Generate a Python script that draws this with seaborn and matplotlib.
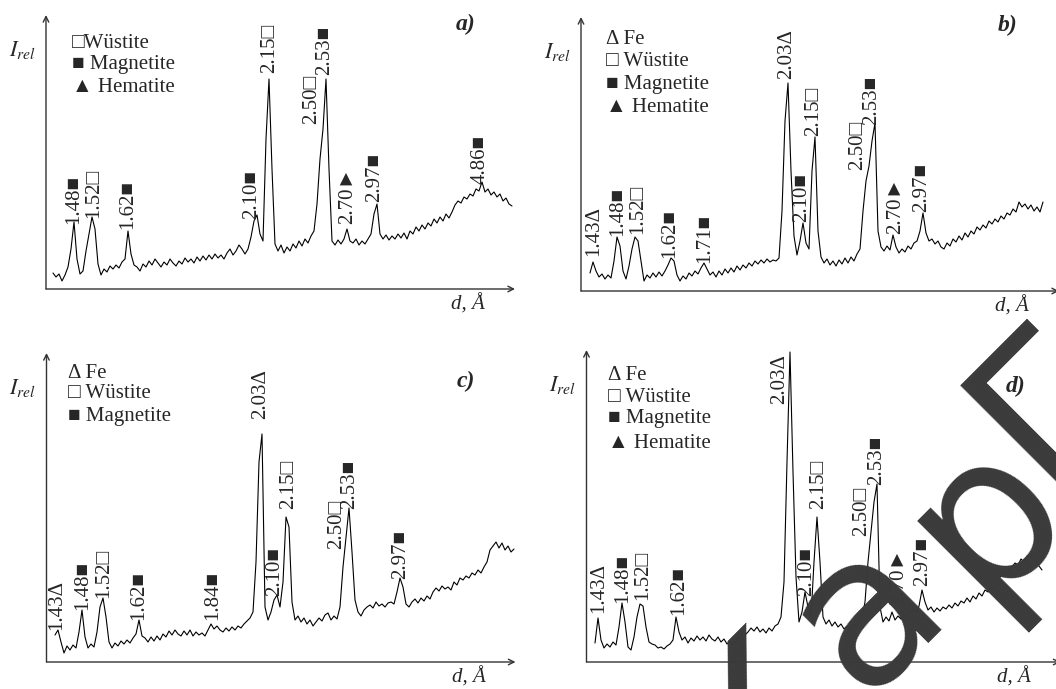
import numpy as np
import matplotlib
matplotlib.use("Agg")
import matplotlib.pyplot as plt
import seaborn as sns

a_x0 = 7
a_y = [16, 12, 15, 8, 14, 22, 40, 67, 30, 15, 18, 38, 55, 72, 60, 25, 14, 20, 17, 23,
       20, 24, 21, 27, 30, 58, 35, 24, 22, 18, 25, 22, 28, 24, 30, 26, 22, 27, 24, 30,
       26, 23, 28, 25, 31, 27, 30, 26, 32, 28, 33, 29, 34, 30, 35, 31, 34, 30, 36, 40,
       34, 38, 44, 40, 35, 40, 52, 68, 74, 55, 48, 150, 210, 120, 45, 38, 44, 36, 42, 38,
       45, 41, 48, 43, 50, 46, 53, 58, 85, 130, 160, 210, 120, 48, 44, 49, 45, 50, 60, 48,
       46, 50, 44, 48, 45, 50, 55, 75, 85, 55, 50, 54, 49, 53, 50, 55, 51, 56, 50, 58,
       55, 62, 58, 64, 60, 66, 63, 70, 66, 72, 68, 75, 71, 77, 84, 88, 86, 92, 90, 95,
       93, 100, 98, 107, 97, 100, 94, 97, 92, 95, 88, 91, 85, 83]

b_x0 = 9
b_y = [18, 29, 20, 14, 17, 12, 16, 13, 30, 54, 45, 20, 12, 25, 42, 54, 50, 30, 10, 16,
       13, 18, 14, 19, 15, 20, 26, 33, 30, 16, 10, 15, 12, 18, 15, 20, 17, 23, 28, 22,
       16, 19, 14, 20, 16, 22, 18, 23, 19, 25, 21, 26, 23, 28, 25, 30, 27, 31, 28, 32,
       29, 31, 30, 33, 80, 170, 208, 120, 55, 36, 50, 68, 48, 42, 120, 154, 60, 34, 28, 32,
       26, 30, 25, 31, 27, 33, 28, 34, 30, 37, 42, 80, 110, 125, 150, 168, 60, 44, 40, 45,
       41, 56, 44, 38, 42, 39, 45, 42, 48, 50, 60, 78, 58, 50, 52, 47, 50, 44, 42, 48,
       45, 52, 49, 55, 51, 58, 54, 60, 57, 64, 61, 66, 63, 70, 67, 72, 69, 75, 72, 78,
       76, 82, 79, 89, 84, 87, 82, 86, 80, 84, 79, 89]

c_x0 = 8.5
c_y = [27, 32, 20, 9, 16, 12, 17, 14, 30, 52, 25, 14, 18, 15, 30, 55, 64, 45, 20, 14,
       19, 16, 21, 18, 22, 19, 24, 28, 42, 26, 24, 20, 25, 21, 26, 22, 28, 25, 31, 27,
       32, 28, 26, 31, 27, 32, 26, 30, 27, 29, 26, 32, 38, 33, 36, 32, 30, 34, 31, 35,
       32, 36, 34, 38, 41, 44, 50, 100, 200, 228, 55, 42, 50, 62, 67, 55, 80, 145, 135, 60,
       42, 46, 40, 44, 38, 42, 36, 40, 44, 41, 47, 49, 42, 46, 43, 55, 95, 125, 154, 110,
       62, 50, 46, 52, 55, 57, 54, 60, 56, 58, 55, 59, 60, 58, 70, 84, 75, 58, 55, 60,
       63, 59, 64, 61, 66, 63, 70, 74, 71, 76, 73, 75, 72, 80, 77, 84, 82, 86, 84, 89,
       87, 92, 89, 95, 100, 112, 116, 120, 114, 119, 112, 116, 110, 113]

d_x0 = 8.5
d_y = [19, 44, 22, 14, 18, 15, 20, 17, 35, 59, 40, 15, 12, 25, 45, 58, 56, 35, 20, 18,
       17, 14, 15, 13, 16, 18, 22, 45, 30, 22, 25, 19, 24, 21, 26, 22, 25, 21, 27, 23,
       21, 25, 20, 23, 18, 21, 17, 20, 24, 22, 27, 30, 34, 31, 35, 30, 33, 29, 34, 31,
       36, 38, 45, 80, 200, 310, 190, 85, 40, 50, 70, 55, 45, 100, 145, 100, 45, 38, 42, 36,
       40, 35, 38, 33, 36, 32, 37, 35, 40, 44, 60, 100, 130, 160, 178, 55, 40, 45, 41, 50,
       42, 46, 43, 48, 44, 50, 52, 49, 56, 72, 60, 52, 55, 50, 54, 51, 55, 53, 57, 54,
       59, 56, 61, 59, 64, 60, 66, 63, 69, 66, 72, 70, 76, 73, 80, 85, 88, 86, 92, 95,
       99, 97, 103, 100, 106, 108, 104, 100, 96, 92]

# peak labels: text, position
a_labels = [("1.48■", 28, 65), ("1.52□", 48, 71), ("1.62■", 82, 60), ("2.10■", 206, 70),
            ("2.15□", 224, 216), ("2.50□", 266, 165), ("2.53■", 279, 214),
            ("2.70►", 301, 65), ("2.97■", 329, 87), ("4.86■", 434, 105)]
b_labels = [("1.43Δ", 13, 35), ("1.48■", 37, 55), ("1.52□", 57, 57), ("1.62■", 89, 33),
            ("1.71■", 124, 28), ("2.03Δ", 206, 212), ("2.10■", 221, 69), ("2.15□", 233, 155),
            ("2.50□", 277, 121), ("2.53■", 291, 166), ("2.70►", 314, 57), ("2.97■", 341, 79)]
c_labels = [("1.43Δ", 10, 32), ("1.48■", 36, 52), ("1.52□", 57, 64), ("1.62■", 92, 42),
            ("1.84■", 166, 42), ("2.03Δ", 214, 243), ("2.10■", 228, 66), ("2.15□", 242, 153),
            ("2.50□", 290, 113), ("2.53■", 303, 153), ("2.97■", 354, 83)]
d_labels = [("1.43Δ", 12, 49), ("1.48■", 36, 59), ("1.52□", 56, 62), ("1.62■", 92, 47),
            ("2.03Δ", 193, 258), ("2.10■", 220, 66), ("2.15□", 232, 153), ("2.50□", 275, 126),
            ("2.53■", 290, 177), ("2.70►", 312, 57), ("2.97■", 336, 76)]

legend_4 = ["Δ Fe", "□ Wüstite", "■ Magnetite", "▲ Hematite"]
legend_a = ["□Wüstite", "■ Magnetite", "▲ Hematite"]
legend_c = ["Δ Fe", "□ Wüstite", "■ Magnetite"]

sns.set_style("white")
plt.rcParams["font.family"] = ["Liberation Serif", "DejaVu Sans"]
plt.rcParams["mathtext.fontset"] = "stix"

W, H = 1056, 689
fig = plt.figure(figsize=(W / 100, H / 100), dpi=100)

# panel: (origin x, origin y, width, height) in pixels, trace, labels, legend
panels = [
    (46, 289, 469, 274, a_x0, a_y, a_labels, legend_a, 26, [245, 224, 201], "a)", (410, 265)),
    (581, 291, 478, 274, b_x0, b_y, b_labels, legend_4, 25, [251, 229, 207, 183], "b)", (417, 266)),
    (46.5, 662, 469, 309, c_x0, c_y, c_labels, legend_c, 22, [289, 268, 245], "c)", (410, 281)),
    (586.5, 662, 474, 312, d_x0, d_y, d_labels, legend_4, 21, [286, 265, 243, 219], "d)", (419, 276)),
]

for ox, oy, w, h, x0, ys, labels, leg, lx, lys, tag, tagpos in panels:
    ax = fig.add_axes([ox / W, 1 - oy / H, w / W, h / H])
    xs = x0 + 3 * np.arange(len(ys))
    sns.lineplot(x=xs, y=ys, ax=ax, color="black", linewidth=0.8)
    ax.set_xlim(0, w)
    ax.set_ylim(0, h)
    ax.set_axis_off()
    arrow = dict(arrowstyle="->", color="#333333", lw=1.0, shrinkA=0, shrinkB=0)
    ax.annotate("", xy=(0, 1), xytext=(0, 0), xycoords="axes fraction", arrowprops=arrow)
    ax.annotate("", xy=(1, 0), xytext=(0, 0), xycoords="axes fraction", arrowprops=arrow)

    for s, x, y in labels:
        ax.text(x, y, s, rotation=90, ha="center", va="bottom", fontsize=15, clip_on=False)
    for s, y in zip(leg, lys):
        ax.text(lx, y, s, ha="left", va="center", fontsize=15)
    ax.text(tagpos[0], tagpos[1], tag, ha="left", va="center", fontsize=17,
            fontweight="bold", fontstyle="italic")
    ax.text(-24, h - 35, r"$I_{rel}$", ha="center", va="center", fontsize=16)
    ax.text(w - 47, -15, "d, Å", ha="center", va="center", fontsize=15, fontstyle="italic")

# watermark letters over the lower right panel (pixel centres)
for ch, px, py in [("К", 760, 722), ("а", 865, 612), ("р", 985, 515), ("Г", 1051, 407)]:
    fig.text(px / W, 1 - py / H, ch, rotation=45, rotation_mode="anchor",
             ha="center", va="center", fontsize=150, color="#3a3a3a",
             family="DejaVu Sans", zorder=10)

fig.savefig("out.png", dpi=100)
